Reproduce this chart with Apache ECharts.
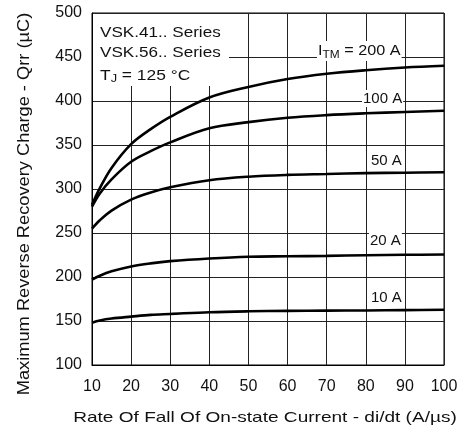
<!DOCTYPE html>
<html>
<head>
<meta charset="utf-8">
<script src="https://cdn.jsdelivr.net/npm/echarts@6/dist/echarts.min.js"></script>
<style>
html,body{margin:0;padding:0;background:#fff;}
#chart{width:464px;height:432px;}
</style>
</head>
<body>
<div id="chart"></div>
<script>
const diDt = [10, 12, 15, 20, 25, 30, 40, 50, 60, 70, 80, 90, 100];
const qrr200A = [282, 301, 324, 351, 368, 382, 404, 416, 425, 431, 435, 438, 440];
const qrr100A = [280, 295, 311, 331, 343, 353, 369, 376, 381, 384, 386, 387.5, 389];
const qrr50A  = [255, 264.5, 275.5, 288, 296, 302, 310, 314, 316, 317, 318, 318.5, 319];
const qrr20A  = [197, 201.5, 206.5, 212, 215.5, 218, 221, 223, 223.5, 224, 224.8, 225.2, 225.5];
const qrr10A  = [148, 150.5, 152.8, 155, 157, 158, 160, 161, 161.5, 161.8, 162, 162.4, 162.7];
const seriesNames = ['200 A', '100 A', '50 A', '20 A', '10 A'];
const seriesValues = [qrr200A, qrr100A, qrr50A, qrr20A, qrr10A];
const xTicks = [10, 20, 30, 40, 50, 60, 70, 80, 90, 100];
const yTicks = [100, 150, 200, 250, 300, 350, 400, 450, 500];
const xTitle = 'Rate Of Fall Of On-state Current - di/dt (A/µs)';
const yTitle = 'Maximum Reverse Recovery Charge - Qrr (µC)';
const noteLines = ['VSK.41.. Series', 'VSK.56.. Series'];
const tjText = ' = 125 °C';

const FONT = '"Liberation Sans", Arial, sans-serif';
const chart = echarts.init(document.getElementById('chart'), null, {renderer: 'canvas'});

const series = seriesNames.map((name, i) => ({
  name: name,
  type: 'line',
  smooth: 0.35,
  symbol: 'none',
  silent: true,
  z: 3,
  lineStyle: {color: '#000', width: 2.6},
  data: diDt.map((x, j) => [x, seriesValues[i][j]])
}));

const labelStyle = {fill: '#111', font: '15px ' + FONT, backgroundColor: '#fff', padding: [1, 1, 1, 1]};

chart.setOption({
  animation: false,
  backgroundColor: '#fff',
  grid: {left: 92, right: 20, top: 13, bottom: 67, show: true, borderColor: '#000', borderWidth: 1},
  xAxis: {
    type: 'value', min: xTicks[0], max: xTicks[xTicks.length - 1], interval: 10,
    axisLine: {show: true, lineStyle: {color: '#000', width: 1}},
    axisTick: {show: false},
    splitLine: {show: true, lineStyle: {color: '#222', width: 1}},
    axisLabel: {color: '#111', fontFamily: FONT, fontSize: 16, margin: 14}
  },
  yAxis: {
    type: 'value', min: yTicks[0], max: yTicks[yTicks.length - 1], interval: 50,
    axisLine: {show: true, lineStyle: {color: '#000', width: 1}},
    axisTick: {show: false},
    splitLine: {show: true, lineStyle: {color: '#222', width: 1}},
    axisLabel: {color: '#111', fontFamily: FONT, fontSize: 16, margin: 10}
  },
  series: series,
  graphic: [
    {type: 'rect', z: 10, shape: {x: 93, y: 14, width: 136, height: 72}, style: {fill: '#fff'}},
    {type: 'text', z: 11, x: 100, y: 33, scaleX: 1.14, style: {text: noteLines[0], fill: '#111', font: '15px ' + FONT, verticalAlign: 'middle'}},
    {type: 'text', z: 11, x: 100, y: 53, scaleX: 1.14, style: {text: noteLines[1], fill: '#111', font: '15px ' + FONT, verticalAlign: 'middle'}},
    {type: 'text', z: 11, x: 100, y: 67, scaleX: 1.16, style: {
      text: '{m|T}{s|J}{m|' + tjText + '}',
      rich: {m: {fill: '#111', font: '15px ' + FONT}, s: {fill: '#111', font: '11px ' + FONT, padding: [6, 0, 0, 0]}}
    }},
    {type: 'text', z: 11, x: 317, y: 41, scaleX: 1.08, style: {
      text: '{m|I}{s|TM}{m| = ' + seriesNames[0] + '}', backgroundColor: '#fff', padding: [1, 1, 1, 1],
      rich: {m: {fill: '#111', font: '15px ' + FONT}, s: {fill: '#111', font: '11px ' + FONT, padding: [7, 0, 0, 0]}}
    }},
    {type: 'text', z: 11, x: 362, y: 90, style: Object.assign({text: seriesNames[1]}, labelStyle)},
    {type: 'text', z: 11, x: 370, y: 152, style: Object.assign({text: seriesNames[2]}, labelStyle)},
    {type: 'text', z: 11, x: 369, y: 232, style: Object.assign({text: seriesNames[3]}, labelStyle)},
    {type: 'text', z: 11, x: 370, y: 289, style: Object.assign({text: seriesNames[4]}, labelStyle)},
    {type: 'text', z: 11, x: 265, y: 418, scaleX: 1.27, style: {text: xTitle, fill: '#111', font: '15px ' + FONT, align: 'center', verticalAlign: 'middle'}},
    {type: 'text', z: 11, x: 25, y: 204, rotation: Math.PI / 2, scaleX: 1.14, style: {text: yTitle, fill: '#111', font: '16px ' + FONT, align: 'center', verticalAlign: 'middle'}}
  ]
});
</script>
</body>
</html>
